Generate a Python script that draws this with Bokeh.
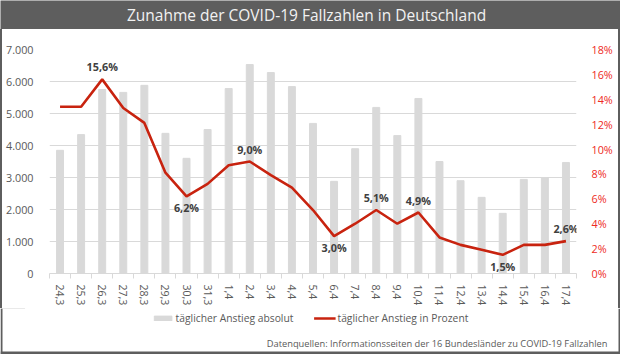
from bokeh.plotting import figure
from bokeh.models import (Range1d, LinearAxis, FixedTicker, Legend, LegendItem, Label,
                          ColumnDataSource, BoxAnnotation, Div)
from bokeh.layouts import column, row
from bokeh.core.properties import value
from bokeh.embed import file_html
from bokeh.resources import INLINE

dates = ["24,3", "25,3", "26,3", "27,3", "28,3", "29,3", "30,3", "31,3", "1,4", "2,4",
         "3,4", "4,4", "5,4", "6,4", "7,4", "8,4", "9,4", "10,4", "11,4", "12,4",
         "13,4", "14,4", "15,4", "16,4", "17,4"]
absolute = [3850, 4340, 5750, 5660, 5880, 4380, 3600, 4500, 5780, 6530,
            6280, 5840, 4690, 2880, 3900, 5190, 4310, 5470, 3500, 2900,
            2380, 1880, 2940, 3000, 3470]
percent = [13.4, 13.4, 15.6, 13.3, 12.1, 8.1, 6.2, 7.2, 8.7, 9.0,
           7.9, 6.9, 5.1, 3.0, 4.0, 5.1, 4.0, 4.9, 2.9, 2.3,
           1.9, 1.5, 2.3, 2.3, 2.6]
left_ticks = [0, 1000, 2000, 3000, 4000, 5000, 6000, 7000]
left_tick_labels = ["0", "1.000", "2.000", "3.000", "4.000", "5.000", "6.000", "7.000"]
right_ticks = [0, 2, 4, 6, 8, 10, 12, 14, 16, 18]
right_tick_labels = ["0%", "2%", "4%", "6%", "8%", "10%", "12%", "14%", "16%", "18%"]
labelled_above = ["26,3", "2,4", "8,4", "10,4", "17,4"]
labelled_below = ["30,3", "6,4", "14,4"]

series_bar = "täglicher Anstieg absolut"
series_line = "täglicher Anstieg in Prozent"
title_text = "Zunahme der COVID-19 Fallzahlen in Deutschland"
source_text = "Datenquellen: Informationsseiten der 16 Bundesländer zu COVID-19 Fallzahlen"

FONT = "Open Sans"
GRAY_TXT = "#595959"
BAR = "#d9d9d9"
LINE = "#c8230f"
RED_AX = "#ee2a24"
FRAME = "#5e5e5e"
W = 620
HEAD_H, MAIN_H, FOOT_H = 29, 279, 46

# ---------------- header ----------------
head = figure(width=W, height=HEAD_H, output_backend="svg", toolbar_location=None,
              x_range=Range1d(0, W), y_range=Range1d(0, HEAD_H),
              x_axis_type=None, y_axis_type=None, min_border=0)
head.outline_line_color = None
head.background_fill_color = FRAME
head.border_fill_color = FRAME
head.add_layout(Label(x=306, y=14.5, text=title_text, text_font=FONT, text_font_size="15.5px",
                      text_color="#f2f2f2", text_align="center", text_baseline="middle"))

# ---------------- main chart ----------------
idx = list(range(len(dates)))
src = ColumnDataSource(dict(x=idx, absolute=absolute, pct=percent))

p = figure(width=W - 4, height=MAIN_H, output_backend="svg", toolbar_location=None,
           x_range=Range1d(-0.5, len(dates) - 0.5), y_range=Range1d(0, 7000),
           min_border_left=46, min_border_right=42, min_border_top=20, min_border_bottom=35)
p.extra_y_ranges = {"pct": Range1d(0, 18)}
p.outline_line_color = None
p.background_fill_color = "white"
p.border_fill_color = "white"

p.vbar(x="x", top="absolute", width=0.33, color=BAR, source=src)
p.line(x="x", y="pct", line_color=LINE, line_width=2.6, y_range_name="pct", source=src)

p.xgrid.visible = False
p.ygrid.ticker = FixedTicker(ticks=left_ticks)
p.ygrid.grid_line_color = "#d9d9d9"
p.ygrid.grid_line_width = 1

xa = p.xaxis[0]
xa.ticker = FixedTicker(ticks=idx, minor_ticks=[i - 0.5 for i in idx] + [len(idx) - 0.5])
xa.major_label_overrides = {i: d for i, d in zip(idx, dates)}
xa.major_label_orientation = "vertical"
xa.major_tick_line_color = None
xa.major_tick_out = 0
xa.major_tick_in = 0
xa.minor_tick_line_color = "#d9d9d9"
xa.minor_tick_out = 5
xa.minor_tick_in = 0
xa.axis_line_color = "#d9d9d9"
xa.major_label_text_font = FONT
xa.major_label_text_font_size = "10.5px"
xa.major_label_text_color = GRAY_TXT
xa.major_label_standoff = 6

ya = p.yaxis[0]
ya.ticker = FixedTicker(ticks=left_ticks)
ya.major_label_overrides = {t: s for t, s in zip(left_ticks, left_tick_labels)}
ya.axis_line_color = None
ya.major_tick_line_color = None
ya.minor_tick_line_color = None
ya.major_label_text_font = FONT
ya.major_label_text_font_size = "10.8px"
ya.major_label_text_color = GRAY_TXT
ya.major_label_standoff = 10

ra = LinearAxis(y_range_name="pct", ticker=FixedTicker(ticks=right_ticks))
ra.major_label_overrides = {t: s for t, s in zip(right_ticks, right_tick_labels)}
ra.axis_line_color = None
ra.major_tick_line_color = None
ra.minor_tick_line_color = None
ra.major_label_text_font = FONT
ra.major_label_text_font_size = "10.8px"
ra.major_label_text_color = RED_AX
ra.major_label_standoff = 9
p.add_layout(ra, "right")

def fmt(v):
    return f"{v:.1f}%".replace(".", ",")

above = ColumnDataSource(dict(
    x=[dates.index(d) for d in labelled_above],
    y=[percent[dates.index(d)] for d in labelled_above],
    t=[fmt(percent[dates.index(d)]) for d in labelled_above]))
below = ColumnDataSource(dict(
    x=[dates.index(d) for d in labelled_below],
    y=[percent[dates.index(d)] for d in labelled_below],
    t=[fmt(percent[dates.index(d)]) for d in labelled_below]))
p.text(x="x", y="y", text="t", source=above, y_range_name="pct",
       text_font=value(FONT), text_font_style="bold", text_font_size="10.8px",
       text_color="#404040", text_align="center", text_baseline="bottom", y_offset=-5)
p.text(x="x", y="y", text="t", source=below, y_range_name="pct",
       text_font=value(FONT), text_font_style="bold", text_font_size="10.8px",
       text_color="#404040", text_align="center", text_baseline="top", y_offset=4)

side_l = Div(text="", width=2, height=MAIN_H, margin=0, styles={"background-color": FRAME})
side_r = Div(text="", width=2, height=MAIN_H, margin=0, styles={"background-color": FRAME})

# ---------------- legend + source note ----------------
foot = figure(width=W, height=FOOT_H, output_backend="svg", toolbar_location=None,
              x_range=Range1d(0, W), y_range=Range1d(0, FOOT_H),
              x_axis_type=None, y_axis_type=None, min_border=0)
foot.extra_y_ranges = {"off": Range1d(-20, -10)}   # legend proxies fall outside the view
foot.outline_line_color = None
foot.background_fill_color = "white"
foot.border_fill_color = "white"
lg_bar = foot.vbar(x="x", top="absolute", width=0.33, color=BAR, source=src,
                   y_range_name="off")
lg_line = foot.line(x="x", y="pct", line_color=LINE, line_width=2.6, source=src,
                    y_range_name="off")
legend = Legend(items=[LegendItem(label=series_bar, renderers=[lg_bar]),
                       LegendItem(label=series_line, renderers=[lg_line])],
                orientation="horizontal", location="top_center",
                label_text_font=FONT, label_text_font_size="10.3px", label_text_color=GRAY_TXT,
                glyph_width=22, glyph_height=6, label_height=16, label_standoff=2,
                spacing=20, padding=0, margin=2, border_line_color=None,
                background_fill_alpha=0)
foot.add_layout(legend)
foot.add_layout(Label(x=607, y=11, text=source_text, text_font=FONT, text_font_size="9.3px",
                      text_color=GRAY_TXT, text_align="right", text_baseline="middle"))
for l, r, b, t in [(0, 2, 0, FOOT_H), (W - 2, W, 0, FOOT_H), (0, W, 0, 3)]:
    foot.add_layout(BoxAnnotation(left=l, right=r, bottom=b, top=t,
                                  fill_color=FRAME, fill_alpha=1, line_color=None))

root = column(head, row(side_l, p, side_r, spacing=0), foot, spacing=0)

open("out.html", "w").write(file_html(root, INLINE))
